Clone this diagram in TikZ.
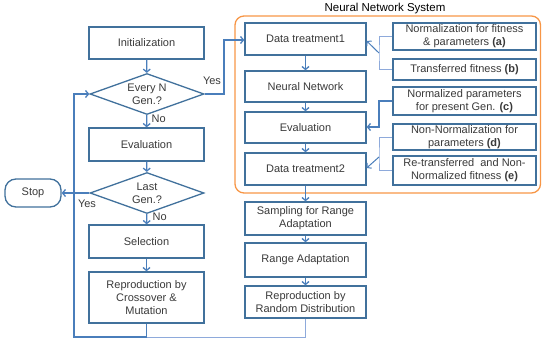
\documentclass[tikz,border=0pt]{standalone}
\usepackage{fontspec}
\setmainfont{Liberation Sans}
\usetikzlibrary{shapes.geometric,arrows.meta}
\definecolor{boxline}{HTML}{41719C}
\definecolor{flow}{HTML}{4A7EBB}
\definecolor{thinflow}{HTML}{8EAADB}
\definecolor{nnorange}{HTML}{F79646}
\definecolor{txt}{HTML}{3A3A3A}
\tikzset{
  x=1pt, y=-1pt,
  every node/.style={font=\fontsize{11}{13}\selectfont, text=txt},
  proc/.style={draw=boxline, line width=1.3pt, fill=white, align=center, inner sep=1pt},
  decide/.style={draw=boxline, line width=1.3pt, fill=white, diamond, inner sep=0pt,
                 minimum width=114pt, minimum height=41pt},
  term/.style={draw=boxline, line width=1.3pt, fill=white, rounded corners=11pt,
               minimum width=56pt, minimum height=28pt},
  tip/.style={-{Straight Barb[length=3pt,width=7pt]}},
  flowline/.style={draw=flow, line width=1.3pt},
  thinline/.style={draw=thinflow, line width=0.9pt},
  tag/.style={font=\fontsize{11}{13}\selectfont},
}
\begin{document}
\begin{tikzpicture}
\useasboundingbox (0,0) rectangle (542,342);

% neural network frame
\draw[nnorange, line width=1.3pt, rounded corners=9pt] (235,16) rectangle (540.5,193);
\node[text=black, font=\fontsize{11.5}{13}\selectfont] (nntitle) at (385,9) {Neural Network System};

% main GA loop
\node[proc, minimum width=115pt, minimum height=32pt] (init) at (146.5,43) {Initialization};
\node[decide, label={[align=center, font=\fontsize{11}{13}\selectfont, text=txt]center:Every N\\Gen.?}] (every) at (147,94) {};
\node[proc, minimum width=115pt, minimum height=33pt] (evalA) at (146.5,144.5) {Evaluation};
\node[decide, label={[align=center, font=\fontsize{11}{13}\selectfont, text=txt]center:Last\\Gen.?}] (last) at (147,193) {};
\node[proc, minimum width=115pt, minimum height=33pt] (sel) at (146.5,241.5) {Selection};
\node[proc, minimum width=115pt, minimum height=51pt] (repro) at (146.5,297.5) {Reproduction by\\Crossover \&\\Mutation};
\node[term] (stop) at (33,193) {Stop};

% neural network column
\node[proc, minimum width=121pt, minimum height=32pt] (dtA) at (305.5,39) {Data treatment1};
\node[proc, minimum width=121pt, minimum height=31pt] (nn) at (305.5,86.5) {Neural Network};
\node[proc, minimum width=121pt, minimum height=31pt] (evalB) at (305.5,127.5) {Evaluation};
\node[proc, minimum width=121pt, minimum height=32pt] (dtB) at (305.5,169) {Data treatment2};
\node[proc, minimum width=121pt, minimum height=33pt] (samp) at (305.5,218.5) {Sampling for Range\\Adaptation};
\node[proc, minimum width=121pt, minimum height=34pt] (range) at (305.5,260) {Range Adaptation};
\node[proc, minimum width=121pt, minimum height=32pt] (rrd) at (305.5,302) {Reproduction by\\Random Distribution};

% data items
\node[proc, minimum width=143pt, minimum height=27pt] (ia) at (464.5,36.5) {Normalization for fitness\\\& parameters \textbf{(a)}};
\node[proc, minimum width=143pt, minimum height=21pt] (ib) at (464.5,69.5) {Transferred fitness \textbf{(b)}};
\node[proc, minimum width=143pt, minimum height=28pt] (ic) at (464.5,101) {Normalized parameters\\for present Gen. \textbf{(c)}};
\node[proc, minimum width=143pt, minimum height=26pt] (id) at (464.5,137) {Non-Normalization for\\parameters \textbf{(d)}};
\node[proc, minimum width=143pt, minimum height=29pt] (ie) at (464.5,170.5) {Re-transferred\ \ and Non-\\Normalized fitness \textbf{(e)}};

% helper points
\coordinate (loopBL) at (74,337);
\coordinate (loopTL) at (74,94);
\coordinate (yesBend) at (224,94);
\coordinate (yesTop) at (224,40);
\coordinate (abJoin) at (379,53);
\coordinate (deJoin) at (379,157);

% GA flow
\draw[flowline, tip] (init) -- (every);
\draw[flowline, tip] (every) -- node[right, tag, pos=0.3, xshift=1pt] {No} (evalA);
\draw[flowline, tip] (evalA) -- (last);
\draw[flowline, tip] (last) -- node[right, tag, pos=0.3, xshift=2pt] {No} (sel);
\draw[flowline, tip] (sel) -- (repro);
\draw[flowline, tip] (repro.south) |- (loopBL) -- (loopTL) -- (every.west);
\draw[flowline, tip] (last.west) -- (stop.east);
\node[tag] (yesStop) at (87,204) {Yes};
\draw[flowline, tip] (every.east) -- (yesBend) -- (yesTop) -- (dtA.west |- yesTop);
\node[tag] (yesNN) at (212,81) {Yes};

% NN flow
\draw[flowline, tip] (dtA) -- (nn);
\draw[flowline, tip] (nn) -- (evalB);
\draw[flowline, tip] (evalB) -- (dtB);
\draw[flowline, tip] (dtB) -- (samp);
\draw[flowline, tip] (samp) -- (range);
\draw[flowline, tip] (range) -- (rrd);
\draw[thinline] (rrd.south) |- (repro.south |- loopBL);

% data item links
\draw[thinline] (ia.west) -| (abJoin) |- (ib.west);
\draw[flowline, line width=1pt, tip] (abJoin) -- (dtA.east |- 0,41);
\draw[flowline, tip] (ic.west) -| (379,127) -- (evalB.east |- 0,127);
\draw[thinline] (id.west) -| (deJoin) |- (ie.west);
\draw[flowline, line width=1pt, tip] (deJoin) -- (dtB.east |- 0,168);
\end{tikzpicture}
\end{document}
